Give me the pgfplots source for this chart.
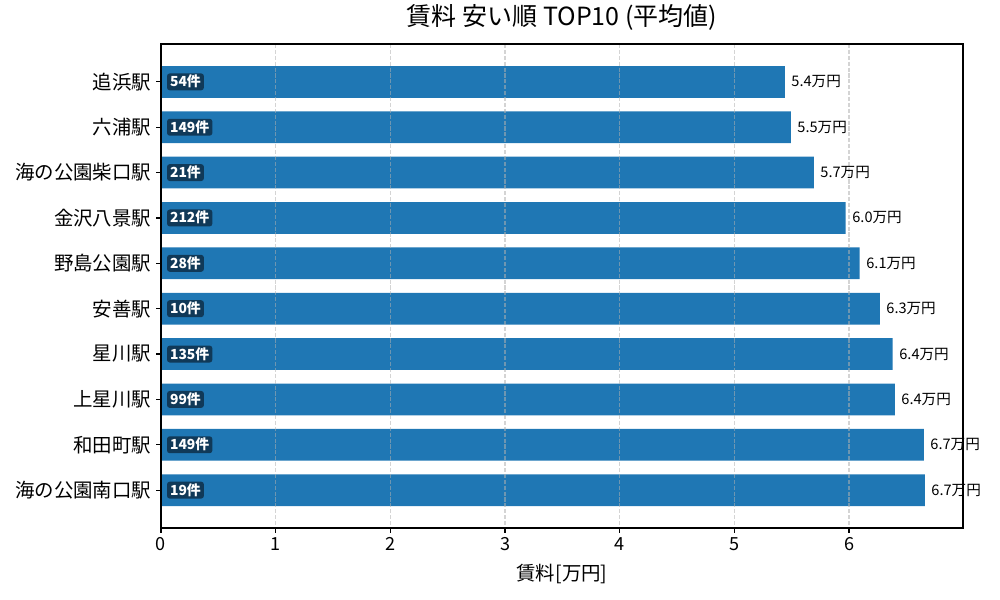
\documentclass[border=0pt]{standalone}
\usepackage{fontspec}
\setmainfont{Noto Sans CJK JP}
\usepackage{pgfplots}
\pgfplotsset{compat=1.18}
\usepackage{pgfplotstable}

\definecolor{barblue}{HTML}{1F77B4}
\definecolor{badge}{RGB}{16,57,88}
\definecolor{gridgray}{HTML}{B0B0B0}

% idx 0 = top bar
\pgfplotstableread{
idx rent n
0 5.440 54
1 5.492 149
2 5.693 21
3 5.971 212
4 6.093 28
5 6.268 10
6 6.381 135
7 6.399 99
8 6.652 149
9 6.661 19
}\rentdata

\begin{document}
\begin{tikzpicture}
\begin{axis}[
  at={(0,0)}, anchor=south west,
  scale only axis,
  width=577.44bp, height=348.48bp,
  xmin=0, xmax=6.994,
  ymin=-0.835, ymax=9.835,
  y dir=reverse,
  ytick={0,...,9},
  yticklabels={追浜駅,六浦駅,海の公園柴口駅,金沢八景駅,野島公園駅,安善駅,星川駅,上星川駅,和田町駅,海の公園南口駅},
  xtick={0,...,6},
  tick align=outside, xtick pos=bottom, ytick pos=left,
  major tick length=3.5bp,
  tick style={black, line width=0.8bp},
  axis line style={black, line width=0.8bp},
  axis on top,
  xmajorgrids,
  major grid style={gridgray, opacity=0.55, line width=0.8bp, dash pattern=on 2.96bp off 1.28bp},
  /pgf/number format/assume math mode=true,
  xticklabel style={font=\fontsize{13bp}{15bp}\selectfont},
  yticklabel style={font=\fontsize{14bp}{16bp}\selectfont},
  title={賃料 安い順 TOP10 (平均値)},
  title style={at={(0.5,1)}, anchor=base, yshift=7.2bp, inner sep=0, font=\fontsize{18bp}{20bp}\selectfont},
  xlabel={賃料[万円]},
  xlabel style={at={(0.5,0)}, anchor=base, yshift=-38bp, inner sep=0, font=\fontsize{14bp}{16bp}\selectfont},
]
\addplot[xbar, bar shift=0pt, bar width=0.7, fill=barblue, draw=none,
  point meta=x,
  nodes near coords={\pgfmathprintnumber[fixed,fixed zerofill,precision=1]{\pgfplotspointmeta}{}万円},
  nodes near coords style={anchor=west, inner sep=0, xshift=4.6bp, text=black,
    font=\fontsize{10.5bp}{12bp}\selectfont}]
  table[x=rent, y=idx] {\rentdata};
\addplot[draw=none, point meta=explicit symbolic,
  nodes near coords={\pgfplotspointmeta{}件},
  nodes near coords style={anchor=west, fill=badge, text=white, rounded corners=2bp,
    inner xsep=2.2bp, inner ysep=1.5bp, text height=8.2bp, text depth=1bp,
    font=\bfseries\fontsize{10bp}{12bp}\selectfont}]
  table[x expr=0.05, y=idx, meta=n] {\rentdata};
\end{axis}
\path (-115.92bp,-51.84bp) rectangle (604.08bp,380.16bp);
\end{tikzpicture}
\end{document}
